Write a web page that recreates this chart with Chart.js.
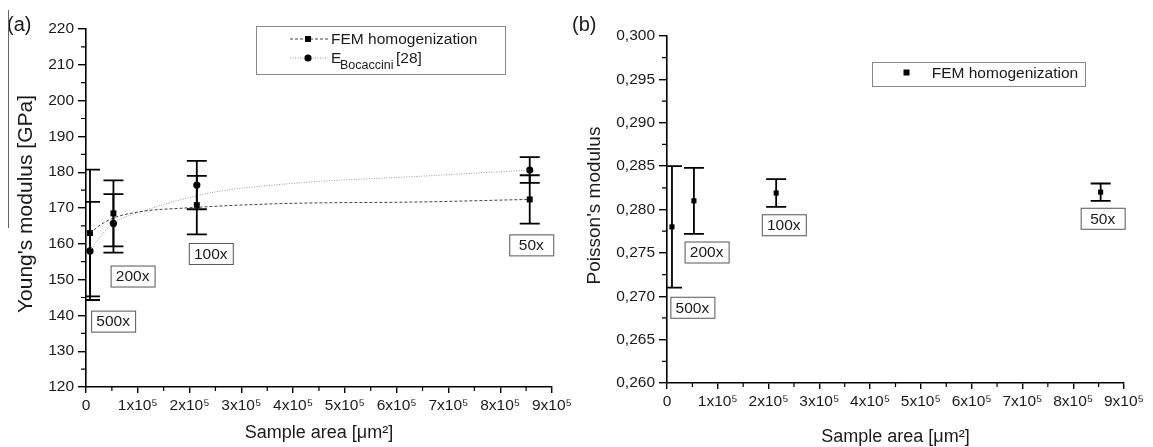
<!DOCTYPE html>
<html>
<head>
<meta charset="utf-8">
<script src="https://cdn.jsdelivr.net/npm/chart.js@4.4.0/dist/chart.umd.min.js"></script>
<style>
  body { margin: 0; background: #fff; }
  #chartA { position: absolute; left: 0; top: 0; }
  #chartB { position: absolute; left: 560px; top: 0; }
</style>
</head>
<body>
<canvas id="chartA" width="575" height="447"></canvas>
<canvas id="chartB" width="593" height="447"></canvas>
<script>
// ---- data ----
const areaA = [7.7e3, 5.3e4, 2.14e5, 8.57e5];
const youngFem = [163, 168.5, 170.8, 172.4];
const youngFemErr = [17.7, 9.2, 8.15, 6.75];
const youngBoc = [158, 165.7, 176.4, 180.6];
const youngBocErr = [13.7, 8.15, 6.75, 3.6];

// fitted curves
const fitFemX = [7.7e3, 2.7e4, 5.3e4, 1.1e5, 1.8e5, 3.7e5, 6.5e5, 8.57e5];
const fitFemY = [163, 165.2, 167.2, 169.1, 169.9, 171.2, 171.7, 172.4];
const fitBocX = [7.7e3, 2.7e4, 5.3e4, 1.16e5, 1.8e5, 2.5e5, 4.1e5, 6.5e5, 8.57e5];
const fitBocY = [158, 161.9, 165.7, 169.4, 172.2, 174.5, 177.0, 178.9, 180.6];

const areaB = [9.8e3, 5.3e4, 2.15e5, 8.54e5];
const poissonFem = [0.278, 0.281, 0.2819, 0.282];
const poissonErr = [0.007, 0.0038, 0.0016, 0.001];

const magnification = ['500x', '200x', '100x', '50x'];
const xTickLabels = ['0', '1x10⁵', '2x10⁵', '3x10⁵', '4x10⁵', '5x10⁵', '6x10⁵', '7x10⁵', '8x10⁵', '9x10⁵'];
const yTickLabelsA = ['120', '130', '140', '150', '160', '170', '180', '190', '200', '210', '220'];
const yTickLabelsB = ['0,260', '0,265', '0,270', '0,275', '0,280', '0,285', '0,290', '0,295', '0,300'];

// where the magnification boxes sit (data coords)
const boxPosA = [[5.24e4, 138.4], [9.0e4, 151.0], [2.41e5, 157.3], [8.6e5, 159.7]];
const boxPosB = [[5.0e4, 0.26873], [7.8e4, 0.2751], [2.30e5, 0.27824], [8.58e5, 0.27899]];

const FONT = '"Liberation Sans", Arial, sans-serif';
const INK = '#1a1a1a';
const OFF_B = 560; // left edge of panel (b) canvas
Chart.defaults.font.family = FONT;
Chart.defaults.color = INK;

function drawErrBars(chart, xs, ys, es) {
  const { ctx, chartArea: ca, scales: { x, y } } = chart;
  ctx.save();
  ctx.beginPath();
  ctx.rect(ca.left, 0, chart.width - ca.left, chart.height);
  ctx.clip();
  ctx.strokeStyle = '#000';
  ctx.lineWidth = 1.8;
  xs.forEach((v, i) => {
    const px = x.getPixelForValue(v);
    const t = y.getPixelForValue(ys[i] + es[i]);
    const b = y.getPixelForValue(ys[i] - es[i]);
    ctx.beginPath();
    ctx.moveTo(px, t); ctx.lineTo(px, b);
    ctx.moveTo(px - 10, t); ctx.lineTo(px + 10, t);
    ctx.moveTo(px - 10, b); ctx.lineTo(px + 10, b);
    ctx.stroke();
  });
  ctx.restore();
}

function drawMinorTicks(chart) {
  const { ctx, chartArea: ca, scales: { x, y } } = chart;
  ctx.save();
  ctx.strokeStyle = '#000';
  ctx.lineWidth = 1.2;
  ctx.beginPath();
  for (let i = 0; i < x.ticks.length - 1; i++) {
    const px = (x.getPixelForValue(x.ticks[i].value) + x.getPixelForValue(x.ticks[i + 1].value)) / 2;
    ctx.moveTo(px, ca.bottom); ctx.lineTo(px, ca.bottom + 4);
  }
  for (let i = 0; i < y.ticks.length - 1; i++) {
    const py = (y.getPixelForValue(y.ticks[i].value) + y.getPixelForValue(y.ticks[i + 1].value)) / 2;
    ctx.moveTo(ca.left, py); ctx.lineTo(ca.left - 5, py);
  }
  ctx.stroke();
  ctx.restore();
}

function drawBoxes(chart, pos) {
  const { ctx, scales: { x, y } } = chart;
  ctx.save();
  ctx.font = '15.5px ' + FONT;
  ctx.textAlign = 'center';
  ctx.textBaseline = 'middle';
  pos.forEach((p, i) => {
    const cx = x.getPixelForValue(p[0]), cy = y.getPixelForValue(p[1]);
    ctx.fillStyle = '#fff';
    ctx.fillRect(cx - 22, cy - 10.5, 44, 21);
    ctx.strokeStyle = '#555';
    ctx.lineWidth = 1;
    ctx.strokeRect(cx - 22 + 0.5, cy - 10.5 + 0.5, 44, 21);
    ctx.fillStyle = INK;
    ctx.fillText(magnification[i], cx, cy + 1);
  });
  ctx.restore();
}

function drawTitles(chart, yTitle, ySize, yx, xTitle, xy, letter, lx) {
  const { ctx, chartArea: ca } = chart;
  ctx.save();
  ctx.fillStyle = INK;
  ctx.textAlign = 'center';
  ctx.textBaseline = 'middle';
  ctx.font = '18px ' + FONT;
  ctx.fillText(xTitle, (ca.left + ca.right) / 2, xy);
  ctx.save();
  ctx.translate(yx, (ca.top + ca.bottom) / 2 - 4);
  ctx.rotate(-Math.PI / 2);
  ctx.font = ySize + 'px ' + FONT;
  ctx.fillText(yTitle, 0, 0);
  ctx.restore();
  ctx.font = '20px ' + FONT;
  ctx.textAlign = 'left';
  ctx.fillText(letter, lx, 25);
  ctx.restore();
}

const decorA = {
  id: 'decorA',
  afterDatasetsDraw(chart) {
    drawErrBars(chart, areaA, youngFem, youngFemErr);
    drawErrBars(chart, areaA, youngBoc, youngBocErr);
    drawMinorTicks(chart);
    drawBoxes(chart, boxPosA);
  },
  afterDraw(chart) {
    const ctx = chart.ctx;
    drawTitles(chart, "Young's modulus [GPa]", 21, 26, 'Sample area [\u03bcm\u00b2]', 433, '(a)', 7);
    // stray rule at the left edge of the scan
    ctx.save();
    ctx.strokeStyle = '#666';
    ctx.lineWidth = 1;
    ctx.beginPath(); ctx.moveTo(8.5, 10); ctx.lineTo(8.5, 228); ctx.stroke();
    // legend
    ctx.strokeStyle = '#888';
    ctx.strokeRect(256.5, 26.5, 249, 48);
    ctx.strokeStyle = '#444';
    ctx.setLineDash([3, 2]);
    ctx.beginPath(); ctx.moveTo(290, 39); ctx.lineTo(328, 39); ctx.stroke();
    ctx.strokeStyle = '#999';
    ctx.setLineDash([1, 1.5]);
    ctx.beginPath(); ctx.moveTo(290, 58); ctx.lineTo(328, 58); ctx.stroke();
    ctx.setLineDash([]);
    ctx.fillStyle = '#000';
    ctx.fillRect(305, 36, 6, 6);
    ctx.beginPath(); ctx.arc(308, 58, 3.6, 0, Math.PI * 2); ctx.fill();
    ctx.fillStyle = INK;
    ctx.textBaseline = 'middle';
    ctx.font = '15.5px ' + FONT;
    ctx.fillText('FEM homogenization', 331, 40);
    ctx.fillText('E', 331, 59);
    ctx.font = '12.5px ' + FONT;
    ctx.fillText('Bocaccini', 340, 66);
    ctx.font = '15.5px ' + FONT;
    ctx.fillText('[28]', 396, 59);
    ctx.restore();
  }
};

const decorB = {
  id: 'decorB',
  afterDatasetsDraw(chart) {
    drawErrBars(chart, areaB, poissonFem, poissonErr);
    drawMinorTicks(chart);
    drawBoxes(chart, boxPosB);
  },
  afterDraw(chart) {
    const ctx = chart.ctx;
    drawTitles(chart, "Poisson's modulus", 19, 595 - OFF_B, 'Sample area [\u03bcm\u00b2]', 437, '(b)', 572 - OFF_B);
    ctx.save();
    ctx.strokeStyle = '#888';
    ctx.lineWidth = 1;
    ctx.strokeRect(872.5 - OFF_B, 62.5, 213, 24);
    ctx.fillStyle = '#000';
    ctx.fillRect(903.5 - OFF_B, 69.5, 6, 6);
    ctx.fillStyle = INK;
    ctx.font = '15.5px ' + FONT;
    ctx.textBaseline = 'middle';
    ctx.fillText('FEM homogenization', 931.7 - OFF_B, 74);
    ctx.restore();
  }
};

function axisOpts(min, max, step, labels, fitFn, isY) {
  return {
    type: 'linear',
    min: min,
    max: max,
    afterFit: fitFn,
    border: { display: true, color: '#000', width: 1.6 },
    grid: { display: true, drawOnChartArea: false, drawTicks: true, tickLength: isY ? 8 : 6, color: '#000', lineWidth: 1.4 },
    ticks: {
      stepSize: step,
      autoSkip: false,
      maxRotation: 0,
      padding: isY ? 4 : 3,
      color: INK,
      font: { size: 15.5 },
      callback: (v, i) => labels[i]
    }
  };
}

const pts = (xs, ys) => xs.map((v, i) => ({ x: v, y: ys[i] }));

new Chart(document.getElementById('chartA'), {
  type: 'scatter',
  data: {
    datasets: [
      { label: 'FEM fit', data: pts(fitFemX, fitFemY), showLine: true, cubicInterpolationMode: 'monotone',
        borderColor: '#444', borderWidth: 1, borderDash: [3, 2], pointRadius: 0 },
      { label: 'Bocaccini fit', data: pts(fitBocX, fitBocY), showLine: true, cubicInterpolationMode: 'monotone',
        borderColor: '#999', borderWidth: 1, borderDash: [1, 1.5], pointRadius: 0 },
      { label: 'FEM homogenization', data: pts(areaA, youngFem), pointStyle: 'rect', pointRadius: 4.2,
        backgroundColor: '#000', borderColor: '#000', borderWidth: 0 },
      { label: 'E Bocaccini [28]', data: pts(areaA, youngBoc), pointStyle: 'circle', pointRadius: 3.6,
        backgroundColor: '#000', borderColor: '#000', borderWidth: 0 }
    ]
  },
  options: {
    responsive: false,
    devicePixelRatio: 1,
    animation: false,
    layout: { padding: { top: 29, right: 20, left: 0, bottom: 0 } },
    plugins: { legend: { display: false }, tooltip: { enabled: false } },
    scales: {
      x: axisOpts(0, 9e5, 1e5, xTickLabels, s => { s.height = 60; }, false),
      y: axisOpts(120, 220, 10, yTickLabelsA, s => { s.width = 86; }, true)
    }
  },
  plugins: [decorA]
});

new Chart(document.getElementById('chartB'), {
  type: 'scatter',
  data: {
    datasets: [
      { label: 'FEM homogenization', data: pts(areaB, poissonFem), pointStyle: 'rect', pointRadius: 3.6,
        backgroundColor: '#000', borderColor: '#000', borderWidth: 0 }
    ]
  },
  options: {
    responsive: false,
    devicePixelRatio: 1,
    animation: false,
    layout: { padding: { top: 36, right: 29, left: 0, bottom: 0 } },
    plugins: { legend: { display: false }, tooltip: { enabled: false } },
    scales: {
      x: axisOpts(0, 9e5, 1e5, xTickLabels, s => { s.height = 64; }, false),
      y: axisOpts(0.26, 0.30, 0.005, yTickLabelsB, s => { s.width = 667 - OFF_B; }, true)
    }
  },
  plugins: [decorB]
});
</script>
</body>
</html>
